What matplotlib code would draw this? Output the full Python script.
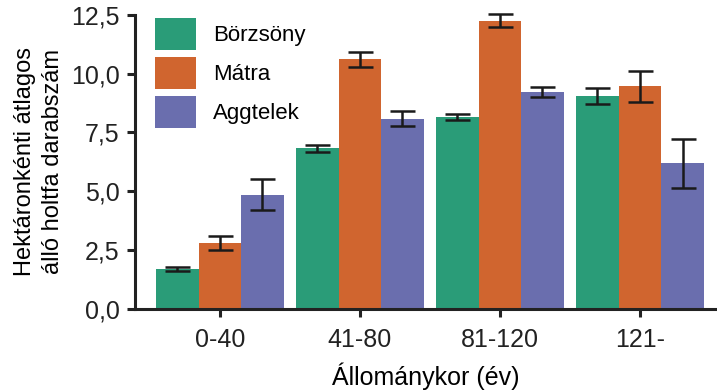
import numpy as np
import matplotlib
matplotlib.use('Agg')
import matplotlib.pyplot as plt

plt.rcParams['font.family'] = ['Liberation Sans Narrow', 'Liberation Sans', 'DejaVu Sans']

# állománykor kategóriák és a három terület átlagai (± hiba)
kategoriak = ['0-40', '41-80', '81-120', '121-']
teruletek = ['Börzsöny', 'Mátra', 'Aggtelek']
borzsony = [1.69, 6.82, 8.15, 9.04]
borzsony_err = [0.10, 0.15, 0.14, 0.34]
matra = [2.80, 10.61, 12.26, 9.46]
matra_err = [0.30, 0.31, 0.27, 0.65]
aggtelek = [4.86, 8.09, 9.22, 6.19]
aggtelek_err = [0.65, 0.33, 0.21, 1.05]
szinek = ['#2a9c78', '#d0652f', '#6a6eae']
yticks = [0, 2.5, 5, 7.5, 10, 12.5]

fig = plt.figure(figsize=(7.17, 3.91), dpi=100)
ax = fig.add_axes([0.188, 0.21, 0.812, 0.752])

x = np.arange(len(kategoriak))
w = 0.304
ertekek = [borzsony, matra, aggtelek]
hibak = [borzsony_err, matra_err, aggtelek_err]
for i in range(3):
    ax.bar(x + (i - 1) * w, ertekek[i], w, color=szinek[i], label=teruletek[i],
           yerr=hibak[i], capsize=9,
           error_kw=dict(ecolor='#1a1a1a', elinewidth=1.8, capthick=1.8, clip_on=False))

ax.set_xlim(-0.607, 3.55)
ax.set_ylim(0, 12.5)
ax.set_xticks(x)
ax.set_xticklabels(kategoriak, fontsize=18)
ax.set_yticks(yticks)
ax.set_yticklabels([f'{v:.1f}'.replace('.', ',') for v in yticks], fontsize=18)
ax.set_xlabel('Állománykor (év)', fontsize=18, labelpad=7)
ax.set_ylabel('Hektáronkénti átlagos\nálló holtfa darabszám', fontsize=17, labelpad=5,
              linespacing=1.35)

for s in ['top', 'right']:
    ax.spines[s].set_visible(False)
for s in ['left', 'bottom']:
    ax.spines[s].set_linewidth(2.2)
    ax.spines[s].set_color('#222222')
ax.tick_params(width=2.2, length=6, color='#222222', labelcolor='#222222')
ax.tick_params(axis='x', pad=8)
ax.tick_params(axis='y', pad=5)

leg = ax.legend(loc='upper left', bbox_to_anchor=(0.02, 1.02), frameon=False,
                fontsize=16, handlelength=1.85, handleheight=1.85,
                handletextpad=0.75, labelspacing=0.3, borderaxespad=0)

fig.savefig('out.png', dpi=100)
